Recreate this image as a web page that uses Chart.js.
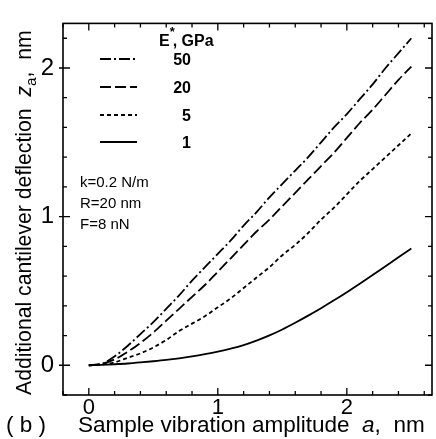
<!DOCTYPE html>
<html>
<head>
<meta charset="utf-8">
<script src="https://cdn.jsdelivr.net/npm/chart.js@4.4.1/dist/chart.umd.min.js"></script>
<style>
html,body{margin:0;padding:0;background:#fff;}
canvas{display:block;}
</style>
</head>
<body>
<canvas id="c" width="436" height="439"></canvas>
<script>
// Sample vibration amplitude a, nm
const amplitude = [0,0.1,0.2,0.3,0.4,0.5,0.6,0.7,0.8,0.9,1.0,1.1,1.2,1.3,1.4,1.5,1.6,1.7,1.8,1.9,2.0,2.1,2.2,2.3,2.4,2.5];
// Additional cantilever deflection z_a, nm for each E*
const defl50 = [0,0.01,0.06,0.13,0.21,0.29,0.38,0.47,0.57,0.66,0.75,0.84,0.94,1.03,1.13,1.22,1.31,1.40,1.50,1.60,1.69,1.79,1.89,2.00,2.10,2.20];
const defl20 = [0,0.01,0.04,0.09,0.15,0.22,0.30,0.38,0.46,0.54,0.63,0.72,0.81,0.90,0.98,1.07,1.16,1.25,1.34,1.43,1.53,1.63,1.72,1.82,1.92,2.01];
const defl5  = [0,0.005,0.02,0.05,0.08,0.12,0.17,0.23,0.28,0.33,0.39,0.45,0.52,0.59,0.66,0.74,0.81,0.89,0.98,1.06,1.15,1.24,1.32,1.40,1.48,1.56];
const defl1  = [0,0.003,0.007,0.012,0.019,0.027,0.036,0.047,0.06,0.075,0.092,0.112,0.136,0.166,0.201,0.241,0.286,0.334,0.384,0.437,0.492,0.549,0.607,0.666,0.726,0.786];
const seriesLabels = ['50','20','5','1'];
const xTickLabels = [0,1,2];
const yTickLabels = [0,1,2];
const paramLines = ['k=0.2 N/m','R=20 nm','F=8 nN'];

const FONT = '"Liberation Sans", Arial, Helvetica, sans-serif';
const toPts = arr => arr.map((v,i)=>({x:amplitude[i], y:v}));
const dashes = [[11,3,2,3],[11,4],[4,3],[]];
const seriesData = [defl50, defl20, defl5, defl1];

const datasets = seriesData.map((d,i)=>({
  label: seriesLabels[i],
  data: toPts(d),
  borderColor:'#000',
  borderWidth:1.8,
  borderDash:dashes[i],
  pointRadius:0,
  fill:false,
  cubicInterpolationMode:'monotone'
}));

// draw a sequence of [text, style, dy] pieces, scaled so the total width equals `width`
function drawRuns(ctx, runs, width, baseSize){
  const widthAt = s => runs.reduce((w,r)=>{ctx.font=r.style+' '+(s*r.k)+'px '+FONT;return w+ctx.measureText(r.t).width;},0);
  const s = baseSize*width/widthAt(baseSize);
  let x=0;
  runs.forEach(r=>{
    ctx.font=r.style+' '+(s*r.k)+'px '+FONT;
    ctx.fillText(r.t,x,(r.dy||0)*s);
    x+=ctx.measureText(r.t).width;
  });
  return s;
}

const decor = {
  id:'decor',
  afterDraw(chart){
    const ctx = chart.ctx;
    const {left,right,top,bottom} = chart.chartArea;
    const xs = chart.scales.x, ys = chart.scales.y;
    ctx.save();
    ctx.strokeStyle='#000';
    ctx.fillStyle='#000';
    ctx.lineWidth=1.6;
    ctx.setLineDash([]);
    ctx.strokeRect(left,top,right-left,bottom-top);
    // inward ticks
    ctx.lineWidth=1.3;
    for(let k=-1;k<=13;k++){
      const v=k*0.2; const px=xs.getPixelForValue(v);
      if(px<left-0.5||px>right+0.5) continue;
      const major = k%5===0;
      const L = major?7:4;
      ctx.beginPath();
      ctx.moveTo(px,bottom); ctx.lineTo(px,bottom-L);
      ctx.moveTo(px,top); ctx.lineTo(px,top+L);
      ctx.stroke();
    }
    for(let k=-1;k<=11;k++){
      const v=k*0.2; const py=ys.getPixelForValue(v);
      if(py<top-0.5||py>bottom+0.5) continue;
      const major = k%5===0;
      const L = major?7:4;
      ctx.beginPath();
      ctx.moveTo(major?left-4:left,py); ctx.lineTo(left+L,py);
      ctx.moveTo(right,py); ctx.lineTo(right-L,py);
      ctx.stroke();
    }
    // legend
    ctx.font='bold 16px '+FONT;
    ctx.textBaseline='middle';
    ctx.textAlign='left';
    ctx.fillText('E',159,42);
    const wE = ctx.measureText('E').width;
    ctx.font='bold 13px '+FONT;
    ctx.fillText('*',159+wE,32);
    ctx.font='bold 16px '+FONT;
    ctx.fillText(', GPa',159+wE+3,42);
    const rowY=[59,87,115,142];
    chart.data.datasets.forEach((ds,i)=>{
      ctx.lineWidth=1.8;
      ctx.setLineDash(ds.borderDash);
      ctx.beginPath();
      ctx.moveTo(100,rowY[i]); ctx.lineTo(137,rowY[i]);
      ctx.stroke();
      ctx.setLineDash([]);
      ctx.textAlign='right';
      ctx.font='bold 16px '+FONT;
      ctx.fillText(ds.label,191,rowY[i]+2);
    });
    // parameters
    ctx.textAlign='left';
    ctx.font='15px '+FONT;
    paramLines.forEach((t,i)=>ctx.fillText(t,80,183+i*21));
    // x title
    ctx.textBaseline='alphabetic';
    ctx.save();
    ctx.translate(78,432);
    const sx = drawRuns(ctx,[
      {t:'Sample vibration amplitude  ',style:'',k:1},
      {t:'a',style:'italic',k:1},
      {t:',  nm',style:'',k:1}
    ],347,20);
    ctx.restore();
    ctx.font=sx+'px '+FONT;
    ctx.fillText('( b )',6,432);
    // y title rotated
    ctx.translate(31,395);
    ctx.rotate(-Math.PI/2);
    drawRuns(ctx,[
      {t:'Additional cantilever deflection  ',style:'',k:1},
      {t:'z',style:'italic',k:1},
      {t:'a',style:'',k:0.72,dy:0.22},
      {t:',  nm',style:'',k:1}
    ],365,20);
    ctx.restore();
  }
};

new Chart(document.getElementById('c'),{
  type:'line',
  data:{datasets},
  options:{
    responsive:false,
    animation:false,
    devicePixelRatio:1,
    layout:{padding:{top:18,right:4,left:0,bottom:0}},
    plugins:{legend:{display:false},tooltip:{enabled:false}},
    scales:{
      x:{
        type:'linear', min:-0.2, max:2.66,
        grid:{display:false,drawTicks:false},
        border:{display:false},
        afterBuildTicks:s=>{s.ticks=xTickLabels.map(v=>({value:v}));},
        afterFit:s=>{s.height=44;},
        ticks:{color:'#000',padding:0,font:{family:FONT,size:22},maxRotation:0,autoSkip:false}
      },
      y:{
        type:'linear', min:-0.2, max:2.3,
        grid:{display:false,drawTicks:false},
        border:{display:false},
        afterBuildTicks:s=>{s.ticks=yTickLabels.map(v=>({value:v}));},
        afterFit:s=>{s.width=63;},
        ticks:{color:'#000',padding:9,font:{family:FONT,size:24},autoSkip:false}
      }
    }
  },
  plugins:[decor]
});
</script>
</body>
</html>
